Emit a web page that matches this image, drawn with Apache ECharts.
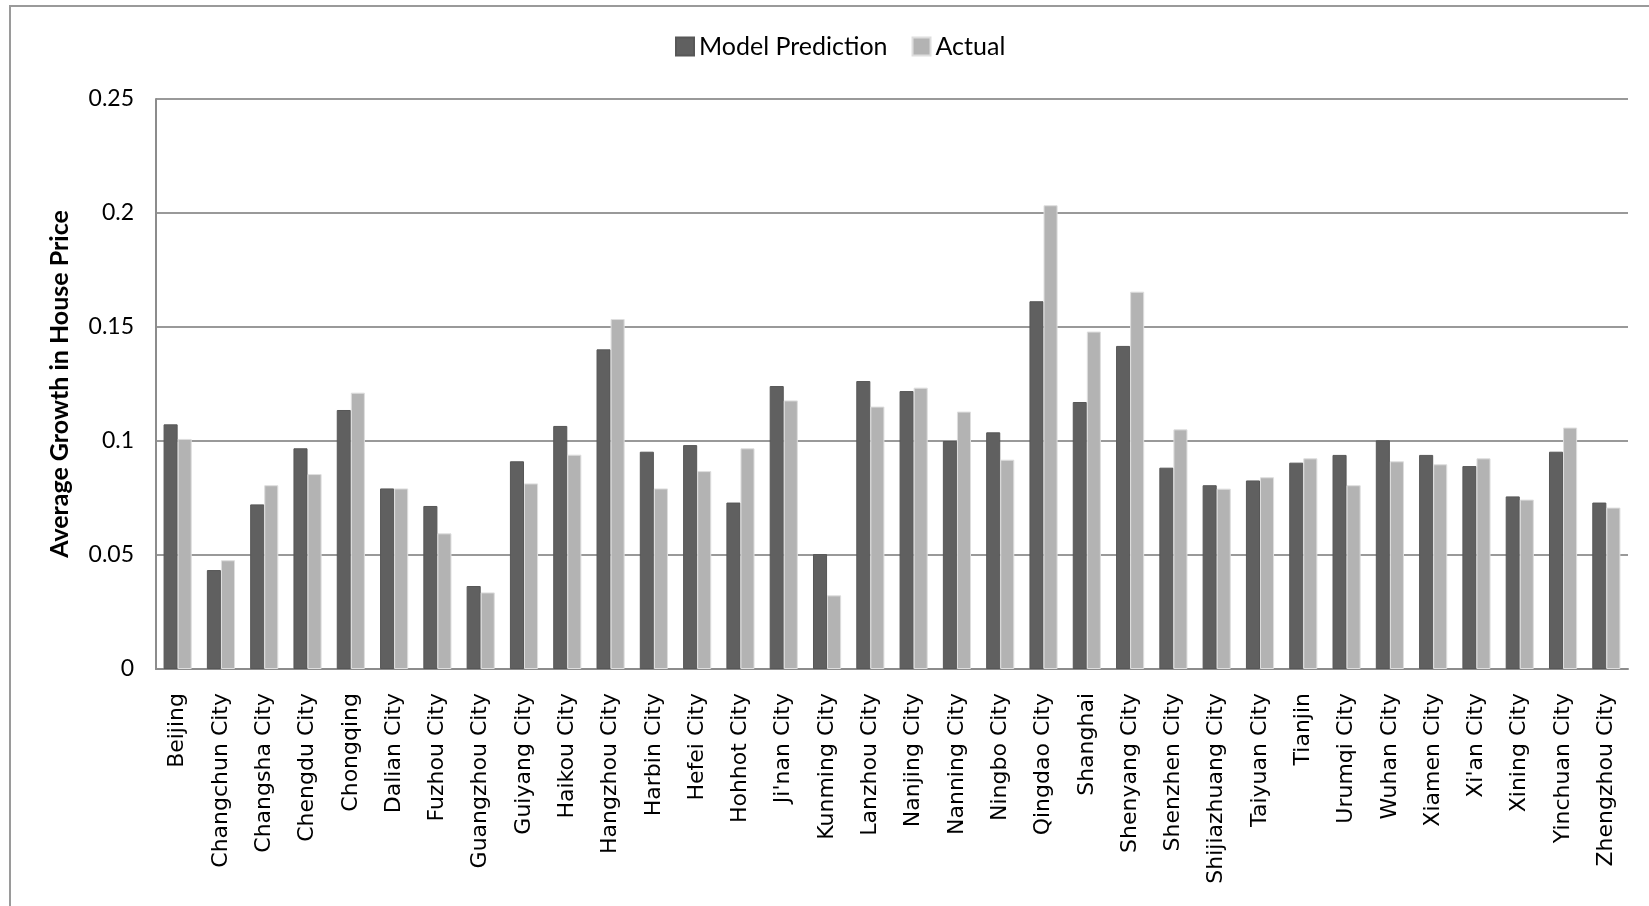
<!DOCTYPE html>
<html>
<head>
<meta charset="utf-8">
<title>Average Growth in House Price</title>
<script src="https://cdn.jsdelivr.net/npm/echarts@6/dist/echarts.min.js"></script>
<style>
  html, body { margin: 0; padding: 0; background: #fff; }
  #chart { width: 1649px; height: 906px; }
</style>
</head>
<body>
<div id="chart"></div>
<script>
// City names along the horizontal axis
const cities = [
  'Beijing', 'Changchun City', 'Changsha City', 'Chengdu City', 'Chongqing',
  'Dalian City', 'Fuzhou City', 'Guangzhou City', 'Guiyang City', 'Haikou City',
  'Hangzhou City', 'Harbin City', 'Hefei City', 'Hohhot City', "Ji'nan City",
  'Kunming City', 'Lanzhou City', 'Nanjing City', 'Nanning City', 'Ningbo City',
  'Qingdao City', 'Shanghai', 'Shenyang City', 'Shenzhen City', 'Shijiazhuang City',
  'Taiyuan City', 'Tianjin', 'Urumqi City', 'Wuhan City', 'Xiamen City',
  "Xi'an City", 'Xining City', 'Yinchuan City', 'Zhengzhou City'
];

// Predicted average growth per city
const modelPrediction = [
  0.1073, 0.0434, 0.0722, 0.0968, 0.1136,
  0.0792, 0.0715, 0.0364, 0.0911, 0.1066,
  0.1402, 0.0953, 0.0982, 0.0730, 0.1241,
  0.0504, 0.1263, 0.1219, 0.1000, 0.1038,
  0.1613, 0.1171, 0.1417, 0.0883, 0.0806,
  0.0827, 0.0905, 0.0939, 0.1003, 0.0939,
  0.0890, 0.0757, 0.0953, 0.0730
];

// Observed average growth per city
const actual = [
  0.1009, 0.0477, 0.0806, 0.0855, 0.1212,
  0.0792, 0.0595, 0.0336, 0.0814, 0.0940,
  0.1535, 0.0792, 0.0868, 0.0968, 0.1178,
  0.0323, 0.1151, 0.1234, 0.1129, 0.0918,
  0.2034, 0.1480, 0.1655, 0.1051, 0.0791,
  0.0841, 0.0924, 0.0806, 0.0911, 0.0898,
  0.0924, 0.0743, 0.1059, 0.0708
];

// Value-axis ticks
const yTicks = [0, 0.05, 0.1, 0.15, 0.2, 0.25];

const chart = echarts.init(document.getElementById('chart'), null, { renderer: 'canvas' });

chart.setOption({
  backgroundColor: '#ffffff',
  animation: false,
  graphic: [{
    type: 'rect',
    shape: { x: 10, y: 6, width: 1700, height: 1000 },
    style: { fill: 'none', stroke: '#9a9a9a', lineWidth: 2 },
    silent: true
  }],
  legend: {
    left: 670,
    top: 29,
    itemWidth: 18,
    itemHeight: 18,
    itemGap: 24,
    icon: 'rect',
    textStyle: { fontFamily: 'Lato', fontSize: 25, color: '#000' },
    data: ['Model Prediction', 'Actual']
  },
  grid: { left: 156, right: 21, top: 99, bottom: 237, containLabel: false },
  xAxis: {
    type: 'category',
    data: cities,
    axisTick: { show: false },
    axisLine: { lineStyle: { color: '#8c8c8c', width: 2 } },
    axisLabel: {
      interval: 0,
      rotate: 90,
      margin: 24,
      fontFamily: 'DejaVu Sans',
      fontSize: 22,
      color: '#000'
    }
  },
  yAxis: {
    type: 'value',
    min: yTicks[0],
    max: yTicks[yTicks.length - 1],
    interval: 0.05,
    name: 'Average Growth in House Price',
    nameLocation: 'middle',
    nameGap: 84,
    nameTextStyle: { fontFamily: 'Lato', fontWeight: 'bold', fontSize: 25, color: '#000' },
    axisLine: { show: true, lineStyle: { color: '#8c8c8c', width: 2 } },
    axisTick: { show: false },
    splitLine: { lineStyle: { color: '#999999', width: 2 } },
    axisLabel: {
      margin: 22,
      fontFamily: 'Lato',
      fontSize: 23,
      color: '#000',
      formatter: v => String(yTicks.find(t => Math.abs(t - v) < 1e-9) ?? v)
    }
  },
  series: [
    {
      name: 'Model Prediction',
      type: 'bar',
      data: modelPrediction,
      barGap: '0%',
      barCategoryGap: '35%',
      itemStyle: { color: '#606060', borderColor: '#575757', borderWidth: 1 }
    },
    {
      name: 'Actual',
      type: 'bar',
      data: actual,
      barGap: '0%',
      barCategoryGap: '35%',
      itemStyle: { color: '#b3b3b3', borderColor: '#dedede', borderWidth: 1 }
    }
  ]
});
</script>
</body>
</html>
